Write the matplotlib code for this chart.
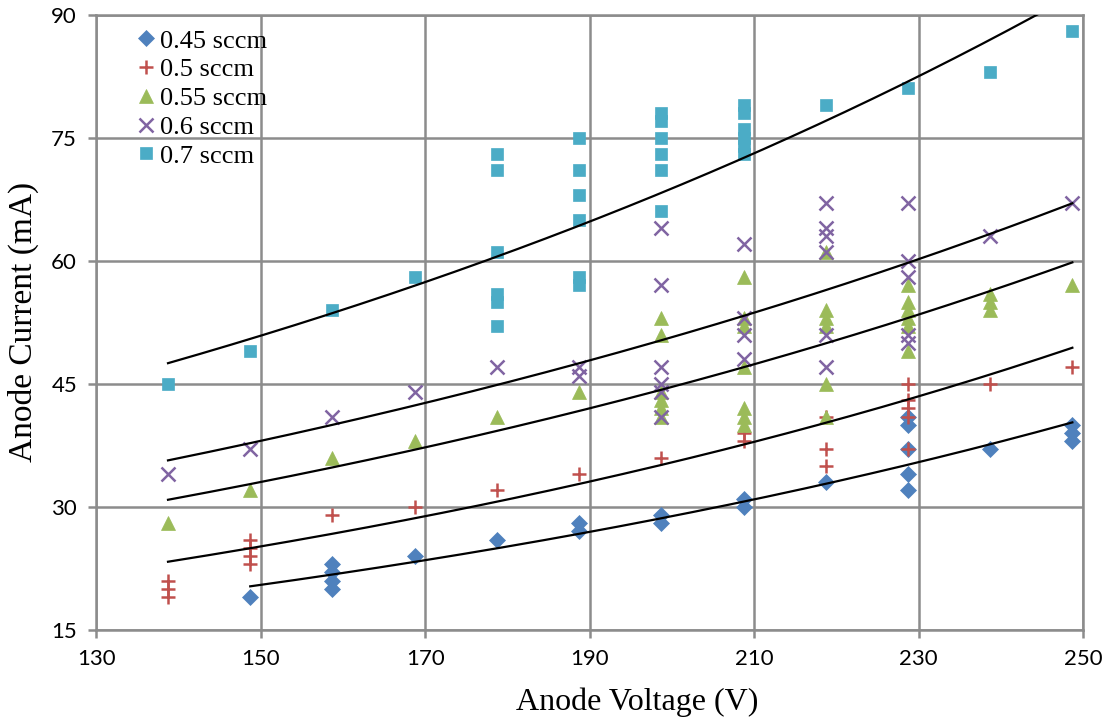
import matplotlib
matplotlib.use("Agg")
import matplotlib.pyplot as plt
import numpy as np

# anode voltage columns (V)
v = [138.7, 148.7, 158.7, 168.7, 178.7, 188.7, 198.7, 208.7, 218.7, 228.7, 238.7, 248.7]

# 0.45 sccm
x045 = [v[1], v[2], v[2], v[2], v[2], v[3], v[4], v[5], v[5], v[6], v[6], v[7], v[7],
        v[8], v[9], v[9], v[9], v[9], v[9], v[10], v[11], v[11], v[11]]
y045 = [19, 23, 22, 21, 20, 24, 26, 28, 27, 29, 28, 31, 30,
        33, 41, 40, 37, 34, 32, 37, 40, 39, 38]

# 0.5 sccm
x05 = [v[0], v[0], v[0], v[1], v[1], v[1], v[1], v[2], v[3], v[4], v[5], v[6], v[7], v[7],
       v[8], v[8], v[8], v[9], v[9], v[9], v[9], v[9], v[10], v[11]]
y05 = [21, 20, 19, 26, 25, 24, 23, 29, 30, 32, 34, 36, 39, 38,
       41, 37, 35, 45, 43, 42, 41, 37, 45, 47]

# 0.55 sccm
x055 = [v[0], v[1], v[2], v[3], v[4], v[5], v[6], v[6], v[6], v[6], v[6], v[6],
        v[7], v[7], v[7], v[7], v[7], v[7], v[7],
        v[8], v[8], v[8], v[8], v[8], v[8],
        v[9], v[9], v[9], v[9], v[9], v[9], v[10], v[10], v[10], v[11]]
y055 = [28, 32, 36, 38, 41, 44, 53, 51, 44, 43, 42, 41,
        58, 53, 52, 47, 42, 41, 40,
        61, 54, 53, 52, 45, 41,
        57, 55, 54, 53, 52, 49, 56, 55, 54, 57]

# 0.6 sccm
x06 = [v[0], v[1], v[2], v[3], v[4], v[5], v[5], v[6], v[6], v[6], v[6], v[6], v[6],
       v[7], v[7], v[7], v[7], v[8], v[8], v[8], v[8], v[8], v[8],
       v[9], v[9], v[9], v[9], v[9], v[10], v[11]]
y06 = [34, 37, 41, 44, 47, 47, 46, 64, 57, 47, 45, 44, 41,
       62, 53, 51, 48, 67, 64, 63, 61, 51, 47,
       67, 60, 58, 51, 50, 63, 67]

# 0.7 sccm
x07 = [v[0], v[1], v[2], v[3], v[4], v[4], v[4], v[4], v[4], v[4],
       v[5], v[5], v[5], v[5], v[5], v[5], v[6], v[6], v[6], v[6], v[6], v[6],
       v[7], v[7], v[7], v[7], v[7], v[7], v[8], v[9], v[10], v[11]]
y07 = [45, 49, 54, 58, 73, 71, 61, 56, 55, 52,
       75, 71, 68, 65, 58, 57, 78, 77, 75, 73, 71, 66,
       79, 78, 76, 75, 74, 73, 79, 81, 83, 88]

# exponential trendlines y = A * exp(B * V)
trend_A = [7.32, 9.03, 13.39, 16.09, 20.54]
trend_B = [0.006857, 0.006832, 0.006017, 0.005736, 0.006045]

series = [
    ("0.45 sccm", x045, y045, "D", "#4F81BD", 8),
    ("0.5 sccm", x05, y05, "+", "#C0504D", 10),
    ("0.55 sccm", x055, y055, "^", "#9BBB59", 10),
    ("0.6 sccm", x06, y06, "x", "#8064A2", 10),
    ("0.7 sccm", x07, y07, "s", "#4BACC6", 9),
]

fig = plt.figure(figsize=(11.09, 7.23), dpi=100)
ax = fig.add_axes([0.087, 0.129, 0.8896, 0.8507])

for name, xs, ys, mk, col, ms in series:
    ax.plot(xs, ys, linestyle="none", marker=mk, color=col, markersize=ms,
            markeredgewidth=1.8 if mk in "+x" else 0.5, label=name, zorder=3)

for (name, xs, ys, mk, col, ms), A, B in zip(series, trend_A, trend_B):
    xx = np.linspace(min(xs), max(xs), 200)
    ax.plot(xx, A * np.exp(B * xx), color="black", lw=1.6, zorder=4)

ax.set_xlim(130, 250)
ax.set_ylim(15, 90)
ax.set_xticks(np.arange(130, 251, 20))
ax.set_yticks(np.arange(15, 91, 15))
ax.grid(True, color="#8c8c8c", lw=1.8)
ax.set_axisbelow(True)
for s in ax.spines.values():
    s.set_color("#8c8c8c")
    s.set_linewidth(1.8)
ax.tick_params(length=6, width=1.8, color="#8c8c8c", labelsize=16, pad=8)
for lab in ax.get_xticklabels() + ax.get_yticklabels():
    lab.set_family(["Lato", "DejaVu Sans"])

ax.set_xlabel("Anode Voltage (V)", family="Liberation Serif", fontsize=23)
ax.set_ylabel("Anode Current (mA)", family="Liberation Serif", fontsize=24)
ax.xaxis.set_label_coords(0.548, -0.094)
ax.yaxis.set_label_coords(-0.058, 0.5)

leg = ax.legend(loc="upper left", bbox_to_anchor=(0.022, 1.0), frameon=False,
                prop={"family": "Liberation Serif", "size": 19},
                handletextpad=0.05, labelspacing=0.2, handlelength=1.0,
                borderaxespad=0.15)

fig.savefig("out.png", dpi=100)
